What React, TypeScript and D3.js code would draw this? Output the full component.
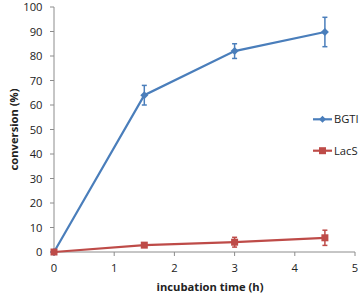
import React from "react";
import * as d3 from "d3";

const times = [0, 1.5, 3, 4.5];
const bgtiValues = [0, 64, 82, 89.8];
const bgtiErrors = [0, 4, 3, 6];
const lacsValues = [0, 2.8, 4, 5.8];
const lacsErrors = [0, 0.6, 2, 3.1];
const xTicks = [0, 1, 2, 3, 4, 5];
const yTicks = [0, 10, 20, 30, 40, 50, 60, 70, 80, 90, 100];
const seriesNames = ["BGTI", "LacS"];

const W = 360, H = 295;
const x = d3.scaleLinear().domain([0, 5]).range([54, 355]);
const y = d3.scaleLinear().domain([0, 100]).range([252, 7]);
const font = "'Open Sans', 'Noto Sans', sans-serif";
const blue = "#4A7EBB";
const red = "#BE4B48";
const axisColor = "#8c8c8c";
const fs = 11.2;

function Series({ values, errors, color, marker }: { values: number[]; errors: number[]; color: string; marker: string }) {
  const line = d3.line<number>().x((_, i) => x(times[i])).y((v) => y(v));
  return (
    <g>
      <path d={line(values) || ""} fill="none" stroke={color} strokeWidth={2.2} />
      {values.map((v, i) => {
        const cx = x(times[i]);
        const e = errors[i];
        return (
          <g key={i}>
            {e > 0 && (
              <g stroke={color} strokeWidth={1.5}>
                <line x1={cx} x2={cx} y1={y(v + e)} y2={y(v - e)} />
                <line x1={cx - 2.5} x2={cx + 2.5} y1={y(v + e)} y2={y(v + e)} />
                <line x1={cx - 2.5} x2={cx + 2.5} y1={y(v - e)} y2={y(v - e)} />
              </g>
            )}
            {marker === "diamond" ? (
              <path d={`M${cx},${y(v) - 4}L${cx + 4},${y(v)}L${cx},${y(v) + 4}L${cx - 4},${y(v)}Z`} fill={color} />
            ) : (
              <rect x={cx - 3.5} y={y(v) - 3.5} width={7} height={7} fill={color} />
            )}
          </g>
        );
      })}
    </g>
  );
}

export default function App() {
  return (
    <svg width={W} height={H} style={{ position: "absolute", left: 0, top: 0, background: "#fff" }} fontFamily={font}>
      <rect width={W} height={H} fill="#fff" />
      <line x1={x(0)} x2={x(0)} y1={y(100)} y2={y(0)} stroke={axisColor} strokeWidth={1} />
      <line x1={x(0)} x2={x(5)} y1={y(0)} y2={y(0)} stroke={axisColor} strokeWidth={1} />
      {yTicks.map((t) => (
        <g key={t}>
          <line x1={x(0) - 4} x2={x(0)} y1={y(t)} y2={y(t)} stroke={axisColor} />
          <text x={42.5} y={y(t)} dy="0.36em" textAnchor="end" fontSize={fs} fill="#222">{t}</text>
        </g>
      ))}
      {xTicks.map((t) => (
        <g key={t}>
          <line x1={x(t)} x2={x(t)} y1={y(0)} y2={y(0) + 4} stroke={axisColor} />
          <text x={x(t)} y={267.5} dy="0.36em" textAnchor="middle" fontSize={fs} fill="#222">{t}</text>
        </g>
      ))}
      <text x={210} y={287} dy="0.36em" textAnchor="middle" fontSize={fs} fontWeight="bold" fill="#222">incubation time (h)</text>
      <text transform={`translate(14,${(y(0) + y(100)) / 2}) rotate(-90)`} dy="0.36em" textAnchor="middle" fontSize={fs} fontWeight="bold" fill="#222">conversion (%)</text>
      <Series values={bgtiValues} errors={bgtiErrors} color={blue} marker="diamond" />
      <Series values={lacsValues} errors={lacsErrors} color={red} marker="square" />
      {seriesNames.map((name, i) => {
        const ly = i === 0 ? 119.3 : 150.7;
        const color = i === 0 ? blue : red;
        return (
          <g key={name}>
            <line x1={313} x2={332} y1={ly} y2={ly} stroke={color} strokeWidth={2.2} />
            {i === 0 ? (
              <path d={`M322.5,${ly - 3.5}L326,${ly}L322.5,${ly + 3.5}L319,${ly}Z`} fill={color} />
            ) : (
              <rect x={319} y={ly - 3.5} width={7} height={7} fill={color} />
            )}
            <text x={334} y={ly} dy="0.36em" fontSize={fs} fill="#222">{name}</text>
          </g>
        );
      })}
    </svg>
  );
}
